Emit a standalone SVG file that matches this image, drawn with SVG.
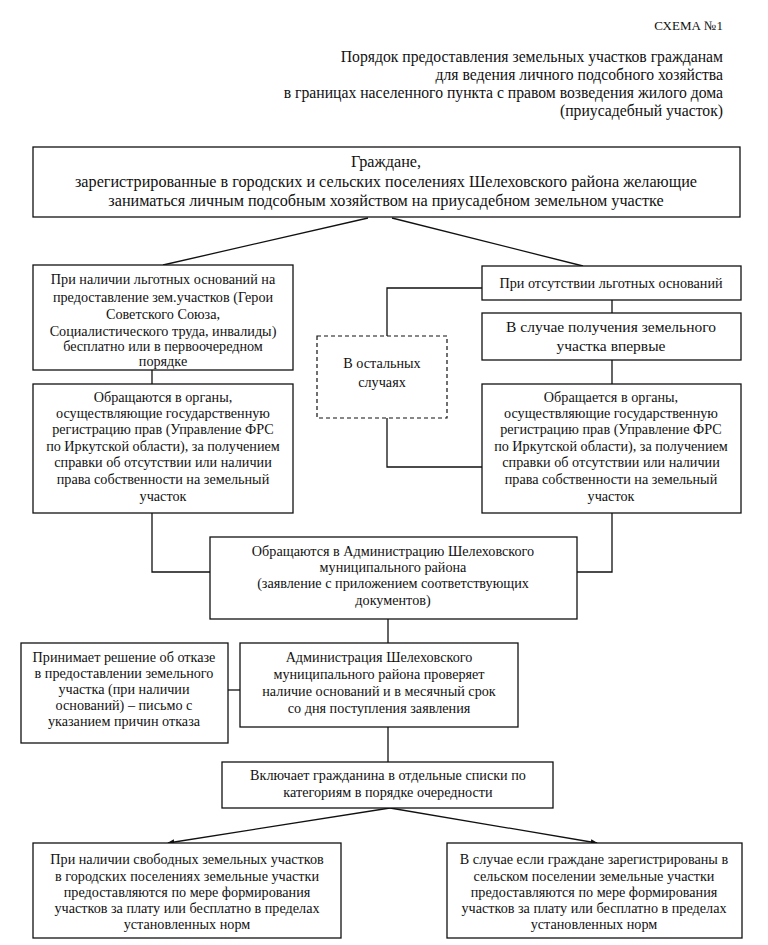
<svg xmlns="http://www.w3.org/2000/svg" width="768" height="945" viewBox="0 0 768 945" font-family="Liberation Serif, serif">
<defs>
<style>
text{font-family:Liberation Serif, serif;fill:#111;text-anchor:middle;font-size:14.2px}
.r{text-anchor:end;font-size:15.7px}
.big{font-size:16.2px}
.mid{font-size:15.5px}
.box{fill:#fff;stroke:#111;stroke-width:1.3}
.dash{fill:#fff;stroke:#111;stroke-width:1.2;stroke-dasharray:4 3}
.ln{fill:none;stroke:#111;stroke-width:1.3}
</style>
<marker id="ah" viewBox="0 0 10 10" refX="9" refY="5" markerWidth="7" markerHeight="7" orient="auto" markerUnits="userSpaceOnUse">
<path d="M0,1 L10,5 L0,9 z" fill="#111"/>
</marker>
</defs>
<rect width="768" height="945" fill="#fff"/>
<g id="title">
<text class="r" x="723" y="30" style="font-size:13px">СХЕМА №1</text>
<text class="r" x="723" y="62">Порядок предоставления земельных участков гражданам</text>
<text class="r" x="723" y="80">для ведения личного подсобного хозяйства</text>
<text class="r" x="723" y="98">в границах населенного пункта с правом возведения жилого дома</text>
<text class="r" x="723" y="116">(приусадебный участок)</text>
</g>
<g id="connectors">
<line class="ln" x1="368" y1="218" x2="163" y2="265"/>
<line class="ln" x1="392" y1="218" x2="583" y2="266"/>
<line class="ln" x1="152" y1="370" x2="152" y2="384"/>
<polyline class="ln" points="482,288 387,288 387,336"/>
<polyline class="ln" points="387,418 387,467 482,467"/>
<line class="ln" x1="612" y1="300" x2="612" y2="313"/>
<line class="ln" x1="612" y1="360" x2="612" y2="384"/>
<polyline class="ln" points="152,513 152,572 210,572"/>
<polyline class="ln" points="612,513 612,572 577,572"/>
<line class="ln" x1="388" y1="619" x2="388" y2="643"/>
<line class="ln" x1="228" y1="690" x2="240" y2="690"/>
<line class="ln" x1="388" y1="727" x2="388" y2="762"/>
<line class="ln" x1="390" y1="808" x2="168" y2="843" marker-end="url(#ah)"/>
<line class="ln" x1="390" y1="808" x2="597" y2="843" marker-end="url(#ah)"/>
</g>
<g id="citizens">
<rect class="box" x="33" y="147" width="707" height="70"/>
<text class="big" x="386" y="167">Граждане,</text>
<text class="big" x="386" y="187">зарегистрированные в городских и сельских поселениях Шелеховского района желающие</text>
<text class="big" x="386" y="206">заниматься личным подсобным хозяйством на приусадебном земельном участке</text>
</g>
<g id="privileged">
<rect class="box" x="33" y="265" width="260" height="105"/>
<text x="163" y="284">При наличии льготных оснований на</text>
<text x="163" y="302">предоставление зем.участков (Герои</text>
<text x="163" y="319">Советского Союза,</text>
<text x="163" y="336">Социалистического труда, инвалиды)</text>
<text x="163" y="351">бесплатно или в первоочередном</text>
<text x="163" y="366">порядке</text>
</g>
<g id="registry-left">
<rect class="box" x="33" y="384" width="260" height="129"/>
<text x="163" y="402">Обращаются в органы,</text>
<text x="163" y="418">осуществляющие государственную</text>
<text x="163" y="434">регистрацию прав (Управление ФРС</text>
<text x="163" y="451">по Иркутской области), за получением</text>
<text x="163" y="467">справки об отсутствии или наличии</text>
<text x="163" y="484">права собственности на земельный</text>
<text x="163" y="501">участок</text>
</g>
<g id="other-cases">
<rect class="dash" x="317" y="336" width="130" height="82"/>
<text x="382" y="368">В остальных</text>
<text x="382" y="387">случаях</text>
</g>
<g id="no-privilege">
<rect class="box" x="482" y="266" width="259" height="34"/>
<text x="611" y="288">При отсутствии льготных оснований</text>
</g>
<g id="first-time">
<rect class="box" x="482" y="313" width="259" height="47"/>
<text class="mid" x="611" y="332">В случае получения земельного</text>
<text class="mid" x="611" y="351">участка впервые</text>
</g>
<g id="registry-right">
<rect class="box" x="482" y="384" width="259" height="129"/>
<text x="611" y="402">Обращается в органы,</text>
<text x="611" y="418">осуществляющие государственную</text>
<text x="611" y="434">регистрацию прав (Управление ФРС</text>
<text x="611" y="451">по Иркутской области), за получением</text>
<text x="611" y="467">справки об отсутствии или наличии</text>
<text x="611" y="484">права собственности на земельный</text>
<text x="611" y="501">участок</text>
</g>
<g id="application">
<rect class="box" x="210" y="537" width="367" height="82"/>
<text x="393" y="556">Обращаются в Администрацию Шелеховского</text>
<text x="393" y="572">муниципального района</text>
<text x="393" y="588">(заявление с приложением соответствующих</text>
<text x="393" y="605">документов)</text>
</g>
<g id="refusal">
<rect class="box" x="21" y="643" width="207" height="100"/>
<text x="124" y="662">Принимает решение об отказе</text>
<text x="124" y="678">в предоставлении земельного</text>
<text x="124" y="694">участка (при наличии</text>
<text x="124" y="710">оснований) – письмо с</text>
<text x="124" y="726">указанием причин отказа</text>
</g>
<g id="check">
<rect class="box" x="240" y="643" width="278" height="84"/>
<text x="379" y="662">Администрация Шелеховского</text>
<text x="379" y="679">муниципального района проверяет</text>
<text x="379" y="696">наличие оснований и в месячный срок</text>
<text x="379" y="713">со дня поступления заявления</text>
</g>
<g id="lists">
<rect class="box" x="222" y="762" width="331" height="46"/>
<text x="388" y="780">Включает гражданина в отдельные списки по</text>
<text x="388" y="797">категориям в порядке очередности</text>
</g>
<g id="urban">
<rect class="box" x="33" y="843" width="308" height="95"/>
<text x="187" y="864">При наличии свободных земельных участков</text>
<text x="187" y="881">в городских поселениях земельные участки</text>
<text x="187" y="897">предоставляются по мере формирования</text>
<text x="187" y="913">участков за плату или бесплатно в пределах</text>
<text x="187" y="929">установленных норм</text>
</g>
<g id="rural">
<rect class="box" x="447" y="843" width="295" height="95"/>
<text x="594" y="864">В случае если граждане зарегистрированы в</text>
<text x="594" y="881">сельском поселении земельные участки</text>
<text x="594" y="897">предоставляются по мере формирования</text>
<text x="594" y="913">участков за плату или бесплатно в пределах</text>
<text x="594" y="929">установленных норм</text>
</g>
</svg>
